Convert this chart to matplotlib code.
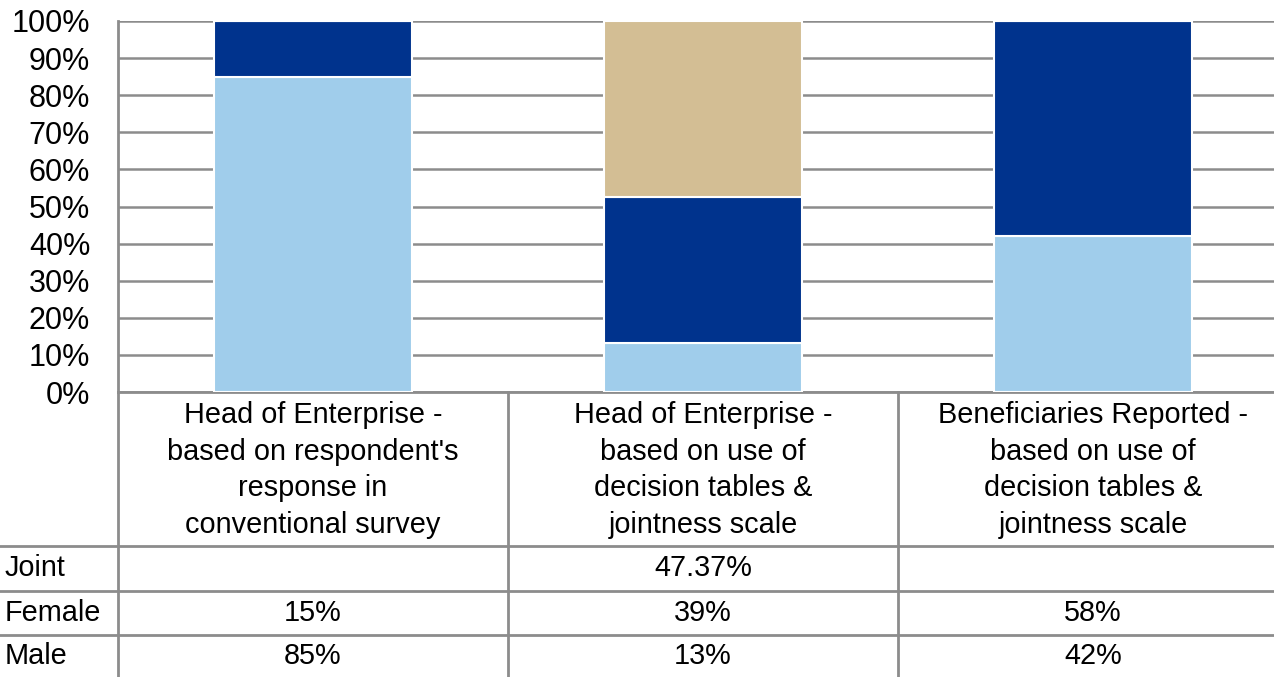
import numpy as np
import matplotlib.pyplot as plt

# data
categories = ["Head of Enterprise -\nbased on respondent's\nresponse in\nconventional survey",
              "Head of Enterprise -\nbased on use of\ndecision tables &\njointness scale",
              "Beneficiaries Reported -\nbased on use of\ndecision tables &\njointness scale"]
male = [85, 13.16, 42]
female = [15, 39.47, 58]
joint = [0, 47.37, 0]
row_names = ['Joint', 'Female', 'Male']
joint_txt = ['', '47.37%', '']
female_txt = ['15%', '39%', '58%']
male_txt = ['85%', '13%', '42%']

c_male = '#A0CDEB'
c_female = '#00338D'
c_joint = '#D3BE94'
grey = '#8c8c8c'

W, H = 1274, 677
fig = plt.figure(figsize=(W/100, H/100), dpi=100)

# plot area: left 118px, bottom 392px, top 21px ; 3 columns of 390px
ax = fig.add_axes([118/W, 1-392/H, 1170/W, 371/H])
x = np.arange(len(categories))
bw = 0.51
ax.bar(x, male, bw, color=c_male, edgecolor='white', linewidth=1.5, zorder=3)
ax.bar(x, female, bw, bottom=male, color=c_female, edgecolor='white', linewidth=1.5, zorder=3)
bot2 = np.add(male, female)
ax.bar(x, joint, bw, bottom=bot2, color=c_joint, edgecolor='white', linewidth=1.5, zorder=3)

ax.set_xlim(-0.5, 2.5)
ax.set_ylim(0, 100)
ax.set_yticks(range(0, 101, 10))
ax.set_yticklabels(['%d%%' % v for v in range(0, 101, 10)], fontsize=22, family='Liberation Sans')
ax.set_xticks([])
ax.tick_params(axis='y', length=0, pad=20)
ax.grid(axis='y', color=grey, linewidth=1.8, zorder=0)
ax.set_axisbelow(True)
for s in ['top', 'right']:
    ax.spines[s].set_visible(False)
for s in ['left', 'bottom']:
    ax.spines[s].set_color(grey)
    ax.spines[s].set_linewidth(2)

# table under the chart, drawn in pixel coords
tab = fig.add_axes([0, 0, 1, 1], zorder=5)
tab.set_xlim(0, W)
tab.set_ylim(H, 0)
tab.axis('off')
tab.patch.set_visible(False)

fig.canvas.draw()
def px(xd):
    return ax.transData.transform((xd, 0))[0]

centers = [px(i) for i in x]
edges = [px(i + 0.5) for i in x[:-1]]

hdr_top, hdr_bot = 392, 546
rows_y = [546, 591, 635, 677]
tfont = dict(family='Liberation Sans', fontsize=20.8)

tab.plot([118, 118], [392, H], color=grey, lw=2)
for e in edges:
    tab.plot([e, e], [392, H], color=grey, lw=2)
for yy in rows_y[:-1]:
    tab.plot([0, W], [yy, yy], color=grey, lw=2)

for cx, lab in zip(centers, categories):
    tab.text(cx, (hdr_top + hdr_bot)/2 + 1, lab, ha='center', va='center', linespacing=1.39, **tfont)

for r, (name, vals) in enumerate(zip(row_names, [joint_txt, female_txt, male_txt])):
    yc = (rows_y[r] + rows_y[r+1])/2
    tab.text(5, yc, name, ha='left', va='center', **tfont)
    for cx, v in zip(centers, vals):
        tab.text(cx, yc, v, ha='center', va='center', **tfont)

fig.savefig('out.png', dpi=100)
